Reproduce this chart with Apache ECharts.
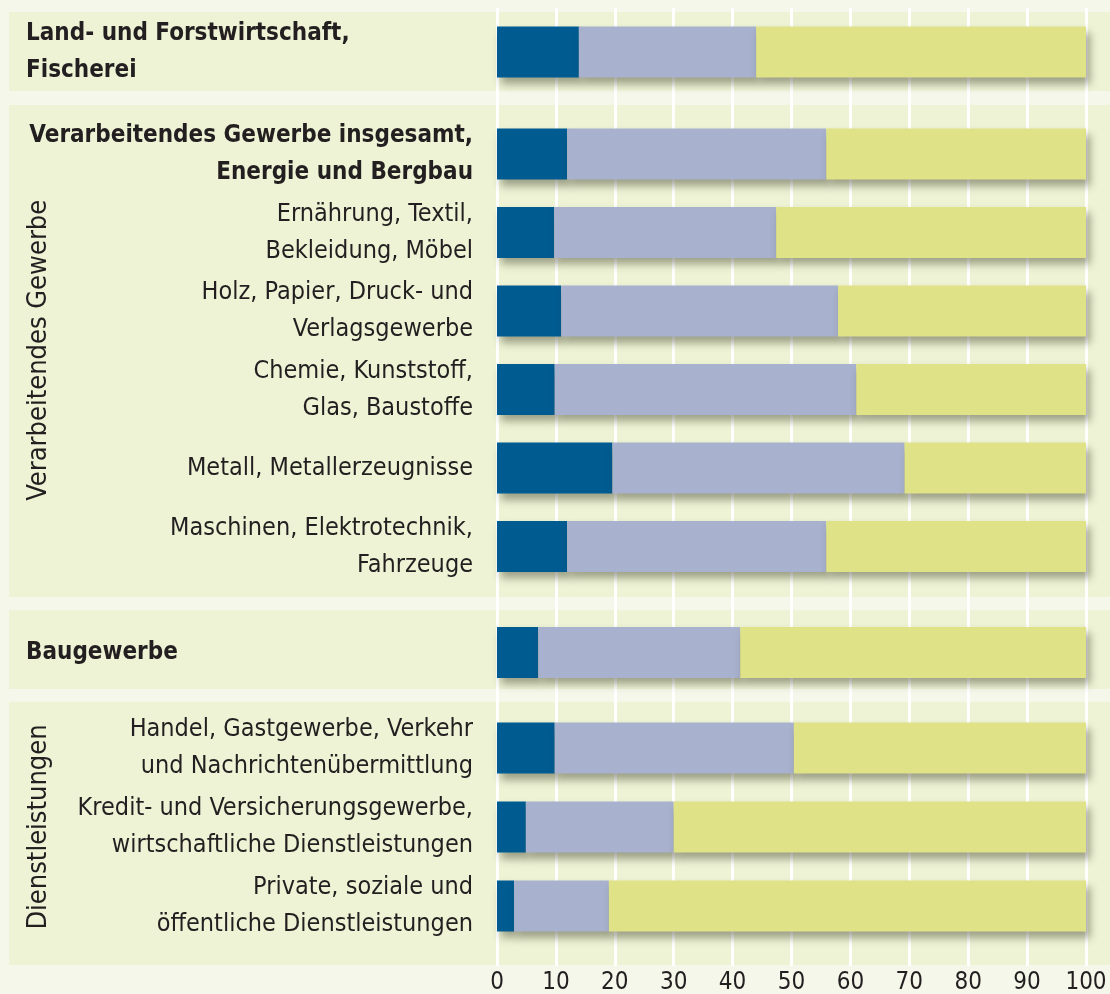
<!DOCTYPE html>
<html>
<head>
<meta charset="utf-8">
<script src="https://cdn.jsdelivr.net/npm/echarts@6/dist/echarts.min.js"></script>
<style>
html,body{margin:0;padding:0;background:#f5f7ea;}
#chart{width:1110px;height:994px;}
</style>
</head>
<body>
<div id="chart"></div>
<script>
// ---- Data ----
const catLand = ['Land- und Forstwirtschaft,\nFischerei'];
const catVerarb = [
  'Verarbeitendes Gewerbe insgesamt,\nEnergie und Bergbau',
  'Ernährung, Textil,\nBekleidung, Möbel',
  'Holz, Papier, Druck- und\nVerlagsgewerbe',
  'Chemie, Kunststoff,\nGlas, Baustoffe',
  'Metall, Metallerzeugnisse',
  'Maschinen, Elektrotechnik,\nFahrzeuge'
];
const catBau = ['Baugewerbe'];
const catDienst = [
  'Handel, Gastgewerbe, Verkehr\nund Nachrichtenübermittlung',
  'Kredit- und Versicherungsgewerbe,\nwirtschaftliche Dienstleistungen',
  'Private, soziale und\nöffentliche Dienstleistungen'
];
const groupNames = ['', 'Verarbeitendes Gewerbe', '', 'Dienstleistungen'];

// values per group, in order top to bottom
const segA = { land: [13.9], verarb: [11.9, 9.7, 10.9, 9.8, 19.6, 11.9], bau: [7.0], dienst: [9.8, 4.9, 2.9] };
const segB = { land: [30.1], verarb: [44.0, 37.7, 47.0, 51.2, 49.6, 44.0], bau: [34.3], dienst: [40.6, 25.1, 16.1] };
const segC = { land: [56.0], verarb: [44.1, 52.6, 42.1, 39.0, 30.8, 44.1], bau: [58.7], dienst: [49.6, 70.0, 81.0] };
const xTicks = [0, 10, 20, 30, 40, 50, 60, 70, 80, 90, 100];

// ---- Layout/style ----
const FONT = '"DejaVu Sans Condensed","Open Sans",sans-serif';
const TXT = '#231f20';
const colors = ['#005b91', '#a8b1cd', '#dfe287'];
const segNames = ['Anteil 1', 'Anteil 2', 'Anteil 3'];
const X0 = 497, XR = 1110 - 1086;

const groups = [
  { key: 'land', cats: catLand, top: 12, height: 80, leftAlign: true, bold: [true] },
  { key: 'verarb', cats: catVerarb, top: 114.75, height: 471, leftAlign: false, bold: [true, false, false, false, false, false] },
  { key: 'bau', cats: catBau, top: 613, height: 79, leftAlign: true, bold: [true] },
  { key: 'dienst', cats: catDienst, top: 708.5, height: 237, leftAlign: false, bold: [false, false, false] }
];
const panels = [[12, 91], [105, 597], [610, 689], [702, 965]];

const grid = [{ left: X0, right: XR, top: 8, bottom: 994 - 966, outerBoundsMode: 'none', containLabel: false }];
const xAxis = [{
  gridIndex: 0, type: 'value', min: 0, max: 100, interval: 10,
  axisLine: { show: false }, axisTick: { show: false },
  splitLine: { show: true, lineStyle: { color: '#ffffff', width: 3 } },
  axisLabel: { color: TXT, fontSize: 24, fontFamily: FONT, margin: 5,
    formatter: v => xTicks.indexOf(v) >= 0 ? String(v) : '' }
}];
const yAxis = [{ gridIndex: 0, type: 'value', show: false, min: 0, max: 1 }];
const series = [];

groups.forEach((g, i) => {
  const gi = i + 1;
  const al = g.leftAlign ? 'left' : 'right';
  grid.push({ left: X0, right: XR, top: g.top, height: g.height, outerBoundsMode: 'none', containLabel: false });
  xAxis.push({ gridIndex: gi, type: 'value', min: 0, max: 100, show: false, splitLine: { show: false } });
  yAxis.push({
    gridIndex: gi, type: 'category', inverse: true,
    data: g.cats.map((c, k) => ({
      value: c,
      textStyle: g.bold[k]
        ? { fontWeight: 'bold', fontSize: 24, align: al }
        : { fontWeight: 'normal', fontSize: 25, align: al }
    })),
    axisLine: { show: false }, axisTick: { show: false }, splitLine: { show: false },
    axisLabel: {
      color: TXT, fontSize: 25, fontFamily: FONT, lineHeight: 37,
      align: al, interval: 0,
      margin: g.leftAlign ? X0 - 26 : 24,
      hideOverlap: false
    },
    name: groupNames[i], nameLocation: 'middle', nameRotate: 90, nameGap: X0 - 52,
    nameMoveOverlap: false,
    nameTextStyle: { color: TXT, fontSize: 27, fontFamily: FONT }
  });
  [segA, segB, segC].forEach((seg, s) => {
    series.push({
      name: segNames[s], type: 'bar', stack: 'g' + gi,
      xAxisIndex: gi, yAxisIndex: gi, barWidth: 51,
      data: seg[g.key],
      itemStyle: { color: colors[s], shadowColor: 'rgba(60,60,40,0.45)', shadowBlur: 8, shadowOffsetX: 4, shadowOffsetY: 6 },
      emphasis: { disabled: true }, silent: true
    });
  });
});

const graphic = panels.map(p => ({
  type: 'rect', z: -100, silent: true,
  shape: { x: 9, y: p[0], width: 1101, height: p[1] - p[0] },
  style: { fill: '#edf3d4' }
}));

const chart = echarts.init(document.getElementById('chart'), null, { renderer: 'canvas' });
chart.setOption({
  backgroundColor: '#f5f7ea',
  animation: false,
  textStyle: { fontFamily: FONT },
  graphic, grid, xAxis, yAxis, series
});
</script>
</body>
</html>
